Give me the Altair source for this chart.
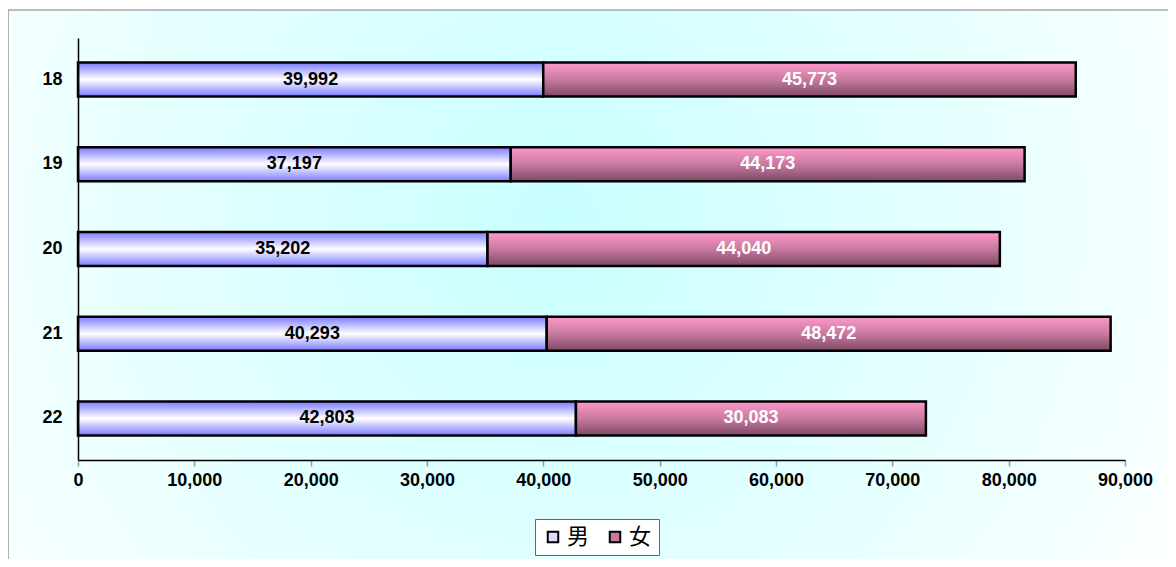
import altair as alt
import pandas as pd

years = ["18", "19", "20", "21", "22"]
male = [39992, 37197, 35202, 40293, 42803]
female = [45773, 44173, 44040, 48472, 30083]
sexes = ["男", "女"]
x_ticks = [0, 10000, 20000, 30000, 40000, 50000, 60000, 70000, 80000, 90000]

df = pd.DataFrame({"year": years, "male": male, "female": female})
df["total"] = df["male"] + df["female"]
df["male_mid"] = df["male"] / 2
df["female_mid"] = df["male"] + df["female"] / 2

W, H = 1047, 422

yscale = alt.Scale(domain=years, paddingInner=0.6, paddingOuter=0.29)
xscale = alt.Scale(domain=[0, 90000], nice=False)

FONT = "Liberation Sans"

x_axis = alt.Axis(values=x_ticks, format=",d", grid=False, domainColor="black", domainWidth=1.5,
                  tickColor="#999999", tickSize=6, tickWidth=1.5, labelFont=FONT, labelFontSize=18,
                  labelFontWeight="bold", labelColor="black", labelPadding=5, labelFlush=False,
                  title=None, zindex=1)
y_axis = alt.Axis(grid=False, domainColor="black", domainWidth=1.5, ticks=False, labelFont=FONT,
                  labelFontSize=18, labelFontWeight="bold", labelColor="black", labelPadding=16,
                  title=None, zindex=1)

bg = alt.Chart(pd.DataFrame({"a": [0]})).mark_rect(
    fill=alt.Gradient(gradient="radial", x1=0.46, y1=0.43, r1=0.0, x2=0.46, y2=0.43, r2=0.62,
                      stops=[alt.GradientStop(color="#c8ffff", offset=0),
                             alt.GradientStop(color="#e6ffff", offset=0.55),
                             alt.GradientStop(color="#ffffff", offset=1)]),
    stroke="#808080", strokeWidth=1.2,
).encode(x=alt.value(-70), x2=alt.value(1120), y=alt.value(-28), y2=alt.value(560))

base = alt.Chart(df)

male_bar = base.mark_bar(
    fill=alt.Gradient(gradient="linear", x1=0, y1=0, x2=0, y2=1,
                      stops=[alt.GradientStop(color="#7b7bff", offset=0),
                             alt.GradientStop(color="#ffffff", offset=0.5),
                             alt.GradientStop(color="#7b7bff", offset=1)]),
    stroke="black", strokeWidth=2.5,
).encode(
    y=alt.Y("year:N", scale=yscale, axis=y_axis, sort=years),
    x=alt.X("zero:Q", scale=xscale, axis=x_axis),
    x2="male:Q",
).transform_calculate(zero="0")

female_bar = base.mark_bar(
    fill=alt.Gradient(gradient="linear", x1=0, y1=0, x2=0, y2=1,
                      stops=[alt.GradientStop(color="#ff99cc", offset=0),
                             alt.GradientStop(color="#c87aa0", offset=0.5),
                             alt.GradientStop(color="#7e4a66", offset=1)]),
    stroke="black", strokeWidth=2.5,
).encode(
    y=alt.Y("year:N", scale=yscale, sort=years),
    x=alt.X("male:Q", scale=xscale),
    x2="total:Q",
)

male_txt = base.mark_text(font=FONT, fontSize=18, fontWeight="bold", color="black").encode(
    y=alt.Y("year:N", scale=yscale, sort=years),
    x=alt.X("male_mid:Q", scale=xscale),
    text=alt.Text("male:Q", format=","),
)
female_txt = base.mark_text(font=FONT, fontSize=18, fontWeight="bold", color="white").encode(
    y=alt.Y("year:N", scale=yscale, sort=years),
    x=alt.X("female_mid:Q", scale=xscale),
    text=alt.Text("female:Q", format=","),
)

legend_layer = alt.Chart(pd.DataFrame({"sex": sexes})).mark_square(opacity=1).encode(
    fill=alt.Fill("sex:N", scale=alt.Scale(domain=sexes, range=["#dcdcff", "#c8789f"]),
                  legend=alt.Legend(title=None, orient="none", legendX=457, legendY=481,
                                    direction="horizontal", symbolType="square", symbolSize=110,
                                    symbolStrokeColor="black", symbolStrokeWidth=2,
                                    symbolOpacity=1, labelFont="Noto Sans CJK JP",
                                    labelFontSize=22, labelColor="black", columnPadding=14,
                                    labelOffset=3, padding=7, strokeColor="#666666",
                                    fillColor="white")),
).transform_filter("false")

chart = alt.layer(bg, male_bar, female_bar, male_txt, female_txt, legend_layer).properties(
    width=W, height=H,
    padding={"left": 70, "top": 30, "right": 43, "bottom": 99},
    autosize=alt.AutoSizeParams(type="none"),
    background="white",
).configure_view(stroke=None)

chart.save("out.html", embed_options={"renderer": "svg", "actions": False})
